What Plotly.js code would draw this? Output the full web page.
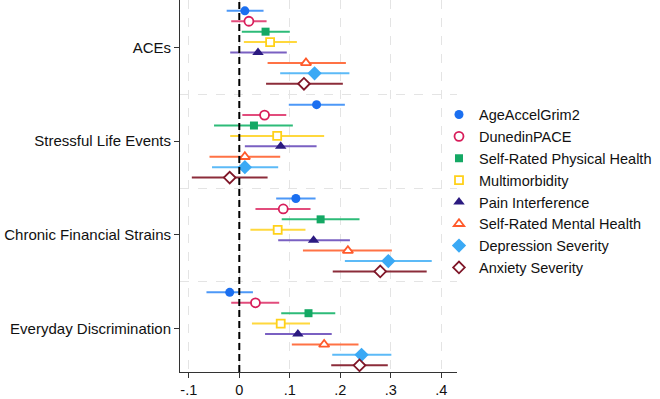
<!DOCTYPE html>
<html>
<head>
<meta charset="utf-8">
<script src="https://cdn.plot.ly/plotly-3.0.1.min.js"></script>
<style>html,body{margin:0;padding:0;background:#fff;}#chart{width:660px;height:399px;}</style>
</head>
<body>
<div id="chart"></div>
<script>
// Categories (y axis, top to bottom)
const categories = ["ACEs", "Stressful Life Events", "Chronic Financial Strains", "Everyday Discrimination"];

// Series names (legend order)
const seriesNames = ["AgeAccelGrim2", "DunedinPACE", "Self-Rated Physical Health", "Multimorbidity",
  "Pain Interference", "Self-Rated Mental Health", "Depression Severity", "Anxiety Severity"];

// Estimates and 95% CI bounds, per series, in category order
const est_AgeAccelGrim2 = [0.011, 0.153, 0.112, -0.019];
const lo_AgeAccelGrim2  = [-0.025, 0.098, 0.073, -0.065];
const hi_AgeAccelGrim2  = [0.048, 0.209, 0.151, 0.027];

const est_DunedinPACE = [0.019, 0.050, 0.087, 0.032];
const lo_DunedinPACE  = [-0.016, 0.006, 0.032, -0.016];
const hi_DunedinPACE  = [0.054, 0.093, 0.141, 0.079];

const est_PhysHealth = [0.052, 0.029, 0.161, 0.137];
const lo_PhysHealth  = [0.005, -0.050, 0.084, 0.083];
const hi_PhysHealth  = [0.100, 0.106, 0.238, 0.190];

const est_Multimorbidity = [0.061, 0.075, 0.076, 0.082];
const lo_Multimorbidity  = [0.009, -0.018, 0.022, 0.025];
const hi_Multimorbidity  = [0.114, 0.168, 0.131, 0.140];

const est_Pain = [0.037, 0.082, 0.147, 0.116];
const lo_Pain  = [-0.018, 0.011, 0.077, 0.051];
const hi_Pain  = [0.094, 0.153, 0.219, 0.183];

const est_MentalHealth = [0.132, 0.011, 0.215, 0.168];
const lo_MentalHealth  = [0.056, -0.059, 0.126, 0.104];
const hi_MentalHealth  = [0.211, 0.081, 0.302, 0.236];

const est_Depression = [0.149, 0.011, 0.295, 0.242];
const lo_Depression  = [0.081, -0.054, 0.209, 0.184];
const hi_Depression  = [0.218, 0.077, 0.381, 0.301];

const est_Anxiety = [0.128, -0.019, 0.279, 0.238];
const lo_Anxiety  = [0.053, -0.094, 0.185, 0.182];
const hi_Anxiety  = [0.205, 0.056, 0.371, 0.294];

// x-axis ticks
const xTickVals = [-0.1, 0, 0.1, 0.2, 0.3, 0.4];
const xTickText = ["-.1", "0", ".1", ".2", ".3", ".4"];

// Styles
const markerColors = ["#1b6ff0", "#d81e5b", "#14a864", "#ffd11a", "#2b1a80", "#ff5a2b", "#3aa9f5", "#7f1628"];
const lineColors   = ["#4d98f7", "#e24c7c", "#2dbb78", "#ffd83d", "#7a60c2", "#ff7245", "#5cbaf7", "#8c2c3a"];
const symbols = ["circle", "circle", "square", "square", "triangle-up", "triangle-up", "diamond", "diamond"];
const hollow  = [false, true, false, true, false, true, false, true];
const sizes   = [9, 9, 8, 8, 10, 9, 11, 9];

const estAll = [est_AgeAccelGrim2, est_DunedinPACE, est_PhysHealth, est_Multimorbidity, est_Pain, est_MentalHealth, est_Depression, est_Anxiety];
const loAll  = [lo_AgeAccelGrim2, lo_DunedinPACE, lo_PhysHealth, lo_Multimorbidity, lo_Pain, lo_MentalHealth, lo_Depression, lo_Anxiety];
const hiAll  = [hi_AgeAccelGrim2, hi_DunedinPACE, hi_PhysHealth, hi_Multimorbidity, hi_Pain, hi_MentalHealth, hi_Depression, hi_Anxiety];

const rowStep = 0.111;
function yPos(g, i) { return g + (i - 3.5) * rowStep; }

const traces = [];
// CI lines
seriesNames.forEach((name, i) => {
  const xs = [], ys = [];
  categories.forEach((c, g) => {
    xs.push(loAll[i][g], hiAll[i][g], null);
    ys.push(yPos(g, i), yPos(g, i), null);
  });
  traces.push({
    type: "scatter", mode: "lines", x: xs, y: ys, showlegend: false, hoverinfo: "skip",
    line: {color: lineColors[i], width: 2}
  });
});
// Point estimates
seriesNames.forEach((name, i) => {
  traces.push({
    type: "scatter", mode: "markers", name: name,
    x: estAll[i], y: categories.map((c, g) => yPos(g, i)),
    marker: {
      symbol: symbols[i], size: sizes[i],
      color: hollow[i] ? "#ffffff" : markerColors[i],
      line: {color: markerColors[i], width: hollow[i] ? 1.8 : 0}
    }
  });
});

const fontFam = "Liberation Sans, Arial, Helvetica, sans-serif";
const layout = {
  width: 660, height: 399,
  margin: {l: 180, r: 203, t: 0, b: 27},
  paper_bgcolor: "#ffffff", plot_bgcolor: "#ffffff",
  font: {family: fontFam, size: 15, color: "#111"},
  showlegend: true,
  legend: {
    x: 0.935, xanchor: "left", y: 0.735, yanchor: "top",
    bgcolor: "rgba(0,0,0,0)", borderwidth: 0,
    font: {family: fontFam, size: 14.5, color: "#111"},
    itemwidth: 30, tracegroupgap: 0
  },
  xaxis: {
    range: [-0.1174, 0.431], tickvals: xTickVals, ticktext: xTickText,
    showgrid: true, gridcolor: "#e4e4e4", griddash: "dash", gridwidth: 1,
    zeroline: false, showline: true, linecolor: "#333", linewidth: 1,
    ticks: "outside", ticklen: 5, tickcolor: "#333",
    tickfont: {family: fontFam, size: 14.5, color: "#111"}
  },
  yaxis: {
    range: [3.46, -0.504], tickvals: [0, 1, 2, 3], ticktext: categories,
    showgrid: false, zeroline: false, showline: true, linecolor: "#333", linewidth: 1,
    ticks: "outside", ticklen: 5, tickcolor: "#333",
    tickfont: {family: fontFam, size: 15, color: "#111"},
    minor: {tick0: 0.5, dtick: 1, showgrid: true, gridcolor: "#e4e4e4", griddash: "dash", gridwidth: 1, ticks: ""}
  },
  shapes: [{
    type: "line", xref: "x", yref: "paper", x0: 0, x1: 0, y0: 0, y1: 1,
    line: {color: "#000", width: 2, dash: "7px,4px"}, layer: "above"
  }]
};

Plotly.newPlot("chart", traces, layout, {displayModeBar: false, staticPlot: true});
</script>
</body>
</html>
